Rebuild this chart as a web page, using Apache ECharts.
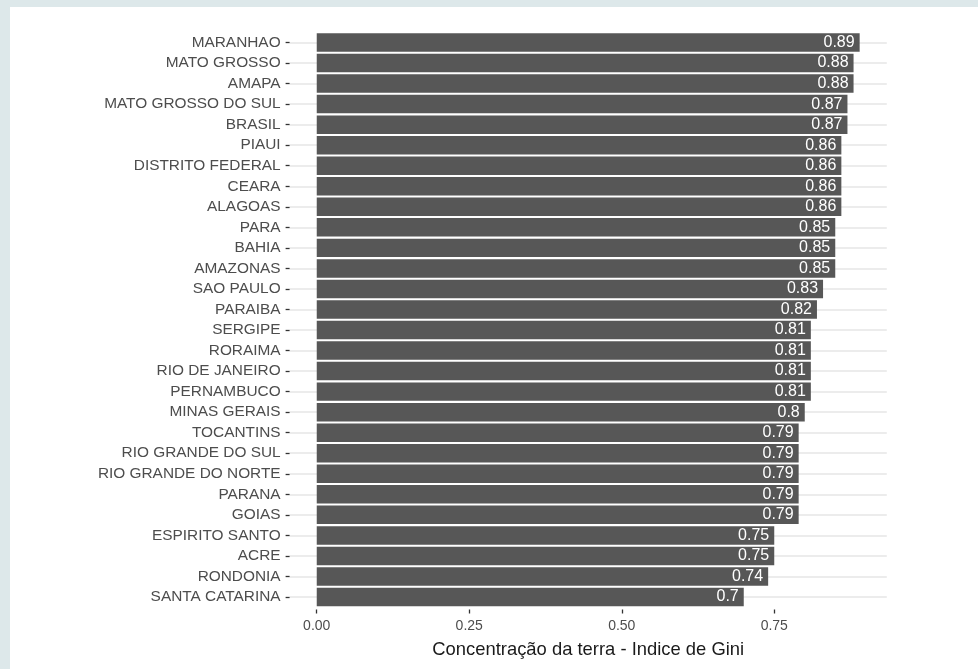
<!DOCTYPE html>
<html>
<head>
<meta charset="utf-8">
<script src="https://cdn.jsdelivr.net/npm/echarts@6.0.0/dist/echarts.min.js"></script>
<style>
  html, body { margin: 0; padding: 0; width: 978px; height: 669px; overflow: hidden; background: #dde8ea; }
  #panel { position: absolute; left: 10px; top: 7px; right: 0; bottom: 0; background: #ffffff; }
  #chart { position: absolute; left: 0; top: 0; width: 978px; height: 669px; }
</style>
</head>
<body>
<div id="panel"></div>
<div id="chart"></div>
<script>
const categories = [
  "MARANHAO", "MATO GROSSO", "AMAPA", "MATO GROSSO DO SUL", "BRASIL", "PIAUI",
  "DISTRITO FEDERAL", "CEARA", "ALAGOAS", "PARA", "BAHIA", "AMAZONAS",
  "SAO PAULO", "PARAIBA", "SERGIPE", "RORAIMA", "RIO DE JANEIRO", "PERNAMBUCO",
  "MINAS GERAIS", "TOCANTINS", "RIO GRANDE DO SUL", "RIO GRANDE DO NORTE",
  "PARANA", "GOIAS", "ESPIRITO SANTO", "ACRE", "RONDONIA", "SANTA CATARINA"
];
const giniValues = [
  0.89, 0.88, 0.88, 0.87, 0.87, 0.86,
  0.86, 0.86, 0.86, 0.85, 0.85, 0.85,
  0.83, 0.82, 0.81, 0.81, 0.81, 0.81,
  0.8, 0.79, 0.79, 0.79,
  0.79, 0.79, 0.75, 0.75, 0.74, 0.7
];
const xTickValues = [0, 0.25, 0.5, 0.75];
const xTickLabels = ["0.00", "0.25", "0.50", "0.75"];
const xAxisTitle = "Concentração da terra - Indice de Gini";

const FONT = "'Liberation Sans', Arial, sans-serif";
const chart = echarts.init(document.getElementById('chart'), null, { renderer: 'canvas' });
chart.setOption({
  backgroundColor: 'transparent',
  animation: false,
  grid: { left: 289.6, right: 91.2, top: 42.5, bottom: 72, containLabel: false },
  xAxis: {
    type: 'value',
    min: -0.0445,
    max: 0.9345,
    offset: 12.5,
    axisLine: { show: true, onZero: false, lineStyle: { color: 'rgba(0,0,0,0)' } },
    splitLine: { show: false },
    axisTick: { show: true, customValues: xTickValues, length: 4, lineStyle: { color: '#333333', width: 1.3 } },
    axisLabel: {
      customValues: xTickValues,
      formatter: function (v) { const i = xTickValues.indexOf(v); return i >= 0 ? xTickLabels[i] : ''; },
      color: '#4d4d4d', fontSize: 14, fontFamily: FONT, margin: 10
    },
    name: xAxisTitle,
    nameLocation: 'middle',
    nameGap: 31,
    nameTextStyle: { color: '#1a1a1a', fontSize: 18.4, fontFamily: FONT }
  },
  yAxis: {
    type: 'category',
    data: categories,
    inverse: true,
    boundaryGap: false,
    axisLine: { show: true, onZero: false, lineStyle: { color: 'rgba(0,0,0,0)' } },
    axisTick: { show: true, length: 4, interval: 0, lineStyle: { color: '#333333', width: 1.3 } },
    axisLabel: { interval: 0, color: '#4d4d4d', fontSize: 15.4, fontFamily: FONT, margin: 9 },
    splitLine: { show: true, interval: 0, lineStyle: { color: '#e6e6e6', width: 1.5 } }
  },
  series: [{
    type: 'bar',
    data: giniValues,
    barWidth: '90%',
    clip: false,
    itemStyle: { color: '#575757' },
    label: {
      show: true,
      position: 'insideRight',
      distance: 5,
      color: '#ffffff',
      fontSize: 16,
      fontFamily: FONT
    }
  }]
});
</script>
</body>
</html>
